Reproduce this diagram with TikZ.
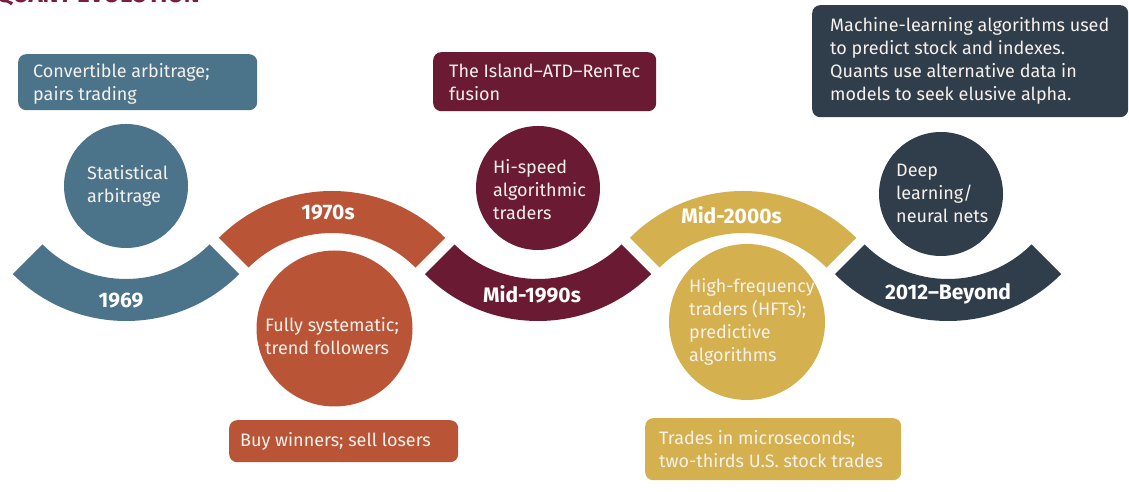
\documentclass[tikz,border=0pt]{standalone}
\usepackage{fontspec}
\setmainfont{Fira Sans}
\definecolor{cblue}{HTML}{4B7389}
\definecolor{corange}{HTML}{B95536}
\definecolor{cmaroon}{HTML}{6A1B33}
\definecolor{cgold}{HTML}{D4B04F}
\definecolor{cdark}{HTML}{303D4A}
\definecolor{ctitle}{HTML}{7B1E3C}
\definecolor{ctext}{HTML}{F6F1EC}
\begin{document}
\begin{tikzpicture}[x=1pt,y=1pt,
  bodytext/.style={font=\fontsize{18}{23}\selectfont, text=ctext, align=left, anchor=west, inner sep=0pt},
  yearlabel/.style={font=\fontsize{21}{24}\selectfont\bfseries, text=white, anchor=base, inner sep=0pt},
  callout/.style={rounded corners=8pt, inner sep=0pt, anchor=north west, draw=none},
  bubble/.style={circle, inner sep=0pt, draw=none}]
\useasboundingbox (0,0) rectangle (1129,492);
\clip (0,0) rectangle (1129,492);

% title fragment (cut off at the top edge)
\node[anchor=base east, font=\fontsize{24}{24}\selectfont\bfseries, text=ctitle, inner sep=0pt] (title) at (200,489.8) {QUANT EVOLUTION};

% timeline bands
\fill[cblue]   (126,331)   ++(225:160pt) arc[start angle=225,end angle=315,radius=160pt] -- ++(135:42pt)  arc[start angle=315,end angle=225,radius=118pt] -- cycle;
\fill[corange] (332,141)   ++(45:160pt)  arc[start angle=45,end angle=135,radius=160pt]  -- ++(-45:42pt)  arc[start angle=135,end angle=45,radius=118pt]  -- cycle;
\fill[cmaroon] (538,331)   ++(225:160pt) arc[start angle=225,end angle=315,radius=160pt] -- ++(135:42pt)  arc[start angle=315,end angle=225,radius=118pt] -- cycle;
\fill[cgold]   (743,141)   ++(45:160pt)  arc[start angle=45,end angle=135,radius=160pt]  -- ++(-45:42pt)  arc[start angle=135,end angle=45,radius=118pt]  -- cycle;
\fill[cdark]   (948,331)   ++(225:160pt) arc[start angle=225,end angle=315,radius=160pt] -- ++(135:42pt)  arc[start angle=315,end angle=225,radius=118pt] -- cycle;

% year labels
\node[yearlabel] (y1) at (121,184) {1969};
\node[yearlabel] (y2) at (328,272) {1970s};
\node[yearlabel] (y3) at (532,189) {Mid-1990s};
\node[yearlabel] (y4) at (731.5,268) {Mid-2000s};
\node[yearlabel] (y5) at (948,192) {2012–Beyond};

% circles
\node[bubble, fill=cblue,   minimum size=124pt] (c1) at (126,306) {};
\node[bubble, fill=corange, minimum size=156pt] (c2) at (334.5,163.5) {};
\node[bubble, fill=cmaroon, minimum size=124pt] (c3) at (538,304) {};
\node[bubble, fill=cgold,   minimum size=156pt] (c4) at (747,170) {};
\node[bubble, fill=cdark,   minimum size=124pt] (c5) at (941,298) {};

\node[bodytext] (t1) at (87,306) {Statistical\\arbitrage};
\node[bodytext] (t2) at (265,156) {Fully systematic;\\trend followers};
\node[bodytext] (t3) at (493,302) {Hi-speed\\algorithmic\\traders};
\node[bodytext] (t4) at (689,170) {High-frequency\\traders (HFTs);\\predictive\\algorithms};
\node[bodytext] (t5) at (896,299) {Deep\\learning/\\neural nets};

% callout boxes
\node[callout, fill=cblue,   minimum width=239pt, minimum height=56pt]  (b1) at (18,438) {};
\node[callout, fill=cmaroon, minimum width=223pt, minimum height=59pt]  (b3) at (433,440) {};
\node[callout, fill=cdark,   minimum width=316pt, minimum height=112pt] (b5) at (812,487) {};
\node[callout, fill=corange, minimum width=229pt, minimum height=42pt]  (b2) at (229,72) {};
\node[callout, fill=cgold,   minimum width=256pt, minimum height=62pt]  (b4) at (645,74) {};

\node[bodytext] (bt1) at (33,408) {Convertible arbitrage;\\pairs trading};
\node[bodytext] (bt3) at (449,410) {The Island–ATD–RenTec\\fusion};
\node[bodytext] (bt5) at (830,431) {Machine-learning algorithms used\\to predict stock and indexes.\\Quants use alternative data in\\models to seek elusive alpha.};
\node[bodytext] (bt2) at (240,51) {Buy winners; sell losers};
\node[bodytext] (bt4) at (659,43) {Trades in microseconds;\\two-thirds U.S. stock trades};
\end{tikzpicture}
\end{document}
